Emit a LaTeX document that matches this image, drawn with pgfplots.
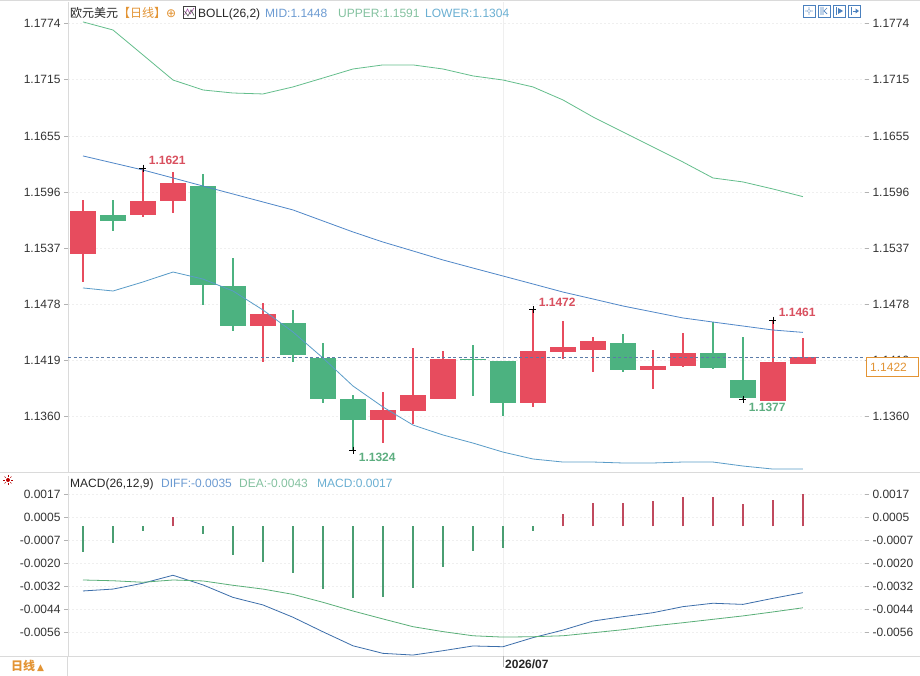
\documentclass[border=0pt]{standalone}
\usepackage{pgfplots}
\pgfplotsset{compat=1.18}
\usepackage{pgfplotstable}
\usepackage{fontspec}
\setmainfont{Liberation Sans}
\newfontfamily\cjk{Noto Sans CJK SC}
\newfontfamily\dejavu{DejaVu Sans}

\definecolor{upred}{HTML}{E74C5E}
\definecolor{dngreen}{HTML}{4CB280}
\definecolor{bollup}{HTML}{64BE8C}
\definecolor{bollmid}{HTML}{5087C8}
\definecolor{bolllow}{HTML}{5A9CC8}
\definecolor{diffc}{HTML}{3C6EAA}
\definecolor{deac}{HTML}{5AAF78}
\definecolor{macdred}{HTML}{C04A5E}
\definecolor{macdgreen}{HTML}{4A9E72}
\definecolor{tickc}{HTML}{333333}
\definecolor{gridc}{HTML}{EFEFEF}
\definecolor{framec}{HTML}{DADADA}
\definecolor{orangec}{HTML}{E39434}
\definecolor{lblred}{HTML}{D9505F}
\definecolor{lblgreen}{HTML}{5DAE80}
\definecolor{pricec}{HTML}{5B7BA8}
\definecolor{iconblue}{HTML}{4A80BE}
\definecolor{midtxt}{HTML}{6C9BD2}
\definecolor{uptxt}{HTML}{84C2A0}
\definecolor{lowtxt}{HTML}{6AAFD2}

% daily candles: x, open, high, low, close
\pgfplotstableread{
x o h l c
0 1.15309 1.15875 1.15014 1.15759
2 1.15720 1.16210 1.15699 1.15864
3 1.15867 1.16173 1.15735 1.16057
6 1.14550 1.14786 1.14165 1.14674
10 1.13560 1.13852 1.13317 1.13662
11 1.13655 1.14312 1.13514 1.13820
12 1.13781 1.14287 1.13775 1.14203
15 1.13739 1.14720 1.13697 1.14284
16 1.14276 1.14603 1.14196 1.14326
17 1.14297 1.14434 1.14066 1.14389
19 1.14087 1.14294 1.13883 1.14126
20 1.14129 1.14477 1.14118 1.14266
23 1.13760 1.14610 1.13760 1.14171
24 1.14150 1.14424 1.14150 1.14220
}\upcandles
\pgfplotstableread{
x o h l c
1 1.15717 1.15875 1.15551 1.15650
4 1.16026 1.16149 1.14768 1.14982
5 1.14969 1.15261 1.14494 1.14547
7 1.14579 1.14716 1.14171 1.14245
8 1.14207 1.14371 1.13739 1.13781
9 1.13778 1.13820 1.13240 1.13560
13 1.14203 1.14347 1.13813 1.14190
14 1.14178 1.14178 1.13599 1.13739
18 1.14368 1.14460 1.14066 1.14087
21 1.14266 1.14593 1.14097 1.14108
22 1.13978 1.14434 1.13770 1.13792
}\downcandles
% Bollinger bands (26,2)
\pgfplotstableread{
x up mid low
0 1.17751 1.16339 1.14948
1 1.17666 1.16265 1.14916
2 1.17403 1.16191 1.15011
3 1.17139 1.16107 1.15116
4 1.17034 1.16022 1.15042
5 1.17002 1.15938 1.14916
6 1.16992 1.15854 1.14716
7 1.17066 1.15770 1.14484
8 1.17160 1.15654 1.14210
9 1.17255 1.15538 1.13915
10 1.17298 1.15432 1.13694
11 1.17298 1.15338 1.13504
12 1.17255 1.15243 1.13399
13 1.17182 1.15158 1.13314
14 1.17139 1.15074 1.13219
15 1.17066 1.14990 1.13146
16 1.16929 1.14905 1.13114
17 1.16750 1.14832 1.13114
18 1.16591 1.14758 1.13104
19 1.16433 1.14695 1.13104
20 1.16275 1.14632 1.13114
21 1.16107 1.14589 1.13114
22 1.16065 1.14547 1.13072
23 1.15991 1.14505 1.13040
24 1.15910 1.14480 1.13040
}\boll
% MACD(26,12,9)
\pgfplotstableread{
x diff dea macd
0 -0.00341 -0.00283 -0.00133
1 -0.00331 -0.00287 -0.00089
2 -0.00300 -0.00295 -0.00022
3 -0.00258 -0.00283 0.00052
4 -0.00309 -0.00288 -0.00041
5 -0.00375 -0.00311 -0.00151
6 -0.00415 -0.00331 -0.00186
7 -0.00480 -0.00359 -0.00244
8 -0.00557 -0.00401 -0.00331
9 -0.00631 -0.00447 -0.00380
10 -0.00671 -0.00489 -0.00371
11 -0.00680 -0.00530 -0.00324
12 -0.00657 -0.00556 -0.00213
13 -0.00632 -0.00578 -0.00128
14 -0.00636 -0.00585 -0.00112
15 -0.00588 -0.00583 -0.00022
16 -0.00548 -0.00578 0.00065
17 -0.00500 -0.00562 0.00126
18 -0.00477 -0.00546 0.00126
19 -0.00456 -0.00526 0.00137
20 -0.00424 -0.00509 0.00158
21 -0.00406 -0.00491 0.00158
22 -0.00412 -0.00473 0.00119
23 -0.00380 -0.00452 0.00140
24 -0.00350 -0.00430 0.00170
}\macd

\pgfplotsset{
  candle/.style n args={2}{draw=none, mark=none, forget plot,
    error bars/.cd, y dir=both, y explicit, error mark=none,
    error bar style={line width=#1, draw=#2}},
  panel/.style={scale only axis, width=797pt, xmin=-0.5, xmax=26.07,
    axis x line=none, axis line style={draw=framec, -},
    tick style={draw=gray!60}, tick align=outside, major tick length=4pt,
    minor tick length=2.5pt, scaled y ticks=false,
    yticklabel style={font=\fontsize{12}{14}\selectfont, text=tickc}},
}

\begin{document}
\begin{tikzpicture}[x=1pt, y=1pt, font=\fontsize{12}{14}\selectfont]
\useasboundingbox (0,0) rectangle (920,676);
\fill[white] (0,0) rectangle (920,676);

% ---------- price panel ----------
\begin{axis}[panel, at={(68pt,674pt)}, anchor=north west, height=470pt,
  ymin=1.13009, ymax=1.17961, axis y line*=left,
  ytick={1.1774,1.1715,1.1655,1.1596,1.1537,1.1478,1.1419,1.1360},
  yticklabel style={/pgf/number format/fixed, /pgf/number format/fixed zerofill,
    /pgf/number format/precision=4, /pgf/number format/assume math mode=true},
  ymajorgrids, grid style={draw=gridc, dash pattern=on 2pt off 2pt}]
\addplot[gridc, forget plot] coordinates {(14,1.13009) (14,1.17961)};
% wicks and bodies
\addplot[candle={1.3pt}{upred}] table[x=x, y expr={(\thisrow{h}+\thisrow{l})/2}, y error expr={(\thisrow{h}-\thisrow{l})/2}] {\upcandles};
\addplot[candle={1.3pt}{dngreen}] table[x=x, y expr={(\thisrow{h}+\thisrow{l})/2}, y error expr={(\thisrow{h}-\thisrow{l})/2}] {\downcandles};
\addplot[candle={26pt}{upred}] table[x=x, y expr={(\thisrow{o}+\thisrow{c})/2}, y error expr={abs(\thisrow{c}-\thisrow{o})/2}] {\upcandles};
\addplot[candle={26pt}{dngreen}] table[x=x, y expr={(\thisrow{o}+\thisrow{c})/2}, y error expr={abs(\thisrow{c}-\thisrow{o})/2}] {\downcandles};
% bands
\addplot[bollup, line width=0.8pt, mark=none] table[x=x, y=up] {\boll};
\addplot[bollmid, line width=0.8pt, mark=none] table[x=x, y=mid] {\boll};
\addplot[bolllow, line width=0.8pt, mark=none] table[x=x, y=low] {\boll};
% last price
\addplot[pricec, line width=0.7pt, dash pattern=on 3pt off 2.5pt, mark=none] coordinates {(-0.5,1.1422) (26.07,1.1422)};
% extremes
\addplot[only marks, mark=+, mark size=3.5pt, mark options={black, line width=0.8pt},
  nodes near coords, point meta=explicit symbolic,
  nodes near coords style={anchor=south west, inner sep=0pt, xshift=5.5pt, yshift=2.8pt,
    font=\bfseries\fontsize{12}{14}\selectfont, text=lblred}]
  table[x=x, y=y, meta=lbl] {
x y lbl
2 1.1621 1.1621
15 1.1472 1.1472
23 1.1461 1.1461
};
\addplot[only marks, mark=+, mark size=3.5pt, mark options={black, line width=0.8pt},
  nodes near coords, point meta=explicit symbolic,
  nodes near coords style={anchor=north west, inner sep=0pt, xshift=5.5pt, yshift=-2.5pt,
    font=\bfseries\fontsize{12}{14}\selectfont, text=lblgreen}]
  table[x=x, y=y, meta=lbl] {
x y lbl
9 1.1324 1.1324
22 1.1377 1.1377
};
\end{axis}
% right-hand price scale
\begin{axis}[panel, at={(68pt,674pt)}, anchor=north west, height=470pt,
  ymin=1.13009, ymax=1.17961, axis y line*=right, minor y tick num=4,
  axis line style={draw=none},
  ytick={1.1774,1.1715,1.1655,1.1596,1.1537,1.1478,1.1419,1.1360},
  yticklabel style={/pgf/number format/fixed, /pgf/number format/fixed zerofill,
    /pgf/number format/precision=4, /pgf/number format/assume math mode=true}]
\end{axis}

% ---------- MACD panel ----------
\begin{axis}[panel, at={(68pt,200pt)}, anchor=north west, height=180pt,
  ymin=-0.00685, ymax=0.002671, axis y line*=left,
  ytick={0.0017,0.000483,-0.000733,-0.00195,-0.003167,-0.004383,-0.0056},
  yticklabels={0.0017,0.0005,-0.0007,-0.0020,-0.0032,-0.0044,-0.0056},
  ymajorgrids, grid style={draw=gridc, dash pattern=on 2pt off 2pt}]
\addplot[gridc, forget plot] coordinates {(14,-0.00685) (14,0.002671)};
\addplot[ycomb, macdred, line width=1.3pt, mark=none, restrict y to domain=0:1] table[x=x, y=macd] {\macd};
\addplot[ycomb, macdgreen, line width=1.3pt, mark=none, restrict y to domain=-1:0] table[x=x, y=macd] {\macd};
\addplot[diffc, line width=0.8pt, mark=none] table[x=x, y=diff] {\macd};
\addplot[deac, line width=0.8pt, mark=none] table[x=x, y=dea] {\macd};
\end{axis}
\begin{axis}[panel, at={(68pt,200pt)}, anchor=north west, height=180pt,
  ymin=-0.00685, ymax=0.002671, axis y line*=right, minor y tick num=4,
  axis line style={draw=none},
  ytick={0.0017,0.000483,-0.000733,-0.00195,-0.003167,-0.004383,-0.0056},
  yticklabels={0.0017,0.0005,-0.0007,-0.0020,-0.0032,-0.0044,-0.0056}]
\end{axis}

% ---------- frame lines ----------
\draw[framec] (0,675.5) -- (920,675.5);
\draw[framec] (0,204) -- (920,204);
\draw[framec] (0,20) -- (920,20);
\draw[framec] (67.5,0) -- (67.5,20);
\draw[gray!60] (503,20) -- (503,9);

% last price tag
\draw[orangec, fill=white, line width=0.8pt] (866,300) rectangle (918,319);
\node[anchor=base west, inner sep=0, text=orangec] at (870,304.5) {1.1422};

% ---------- headers ----------
\node[anchor=base west, inner sep=0, text=black!85] at (70,658.5) {\cjk 欧元美元};
\node[anchor=base west, inner sep=0, text=orangec] at (118,658.5) {\cjk 【日线】};
\node[anchor=base west, inner sep=0, text=orangec] at (166,658.5) {\dejavu\fontsize{12}{14}\selectfont ⊕};
\draw[black!75, line width=0.7pt] (183.5,658) rectangle (195,669.5);
\draw[violet!70, line width=0.6pt] (184.5,661) -- (187.5,667) -- (190,662) -- (194,668);
\draw[black!70, line width=0.6pt] (184.5,665) -- (188,660) -- (191,666) -- (194,660.5);
\node[anchor=base west, inner sep=0, text=black!85] at (198,658.5) {BOLL(26,2)};
\node[anchor=base west, inner sep=0, text=midtxt] at (265,658.5) {MID:1.1448};
\node[anchor=base west, inner sep=0, text=uptxt] at (338,658.5) {UPPER:1.1591};
\node[anchor=base west, inner sep=0, text=lowtxt] at (425,658.5) {LOWER:1.1304};

% toolbar
\foreach \x in {803,818,833,848} {
  \draw[iconblue, line width=0.7pt] (\x,659) rectangle (\x+12,671);
}
\foreach \dx/\dy in {0/3,0/-3,3/0,-3/0,0/1.2,0/-1.2,1.2/0,-1.2/0}
  \fill[iconblue] (809+\dx,665+\dy) circle (0.6);
\draw[iconblue, line width=0.7pt] (821,661) -- (821,669) (823,661) -- (823,669) (824,665) -- (827,668) (824,665) -- (827,662);
\draw[iconblue, line width=0.7pt] (836,661) -- (836,669);
\fill[iconblue] (838,662) -- (838,668) -- (843,665) -- cycle;
\draw[iconblue, line width=0.7pt] (851,661) -- (851,669);
\draw[iconblue, line width=0.9pt] (852.5,665) -- (856,665);
\fill[iconblue] (855.5,662.5) -- (855.5,667.5) -- (859,665) -- cycle;

\node[anchor=base west, inner sep=0, text=black!85] at (70,188.5) {MACD(26,12,9)};
\node[anchor=base west, inner sep=0, text=midtxt] at (161,188.5) {DIFF:-0.0035};
\node[anchor=base west, inner sep=0, text=uptxt] at (239,188.5) {DEA:-0.0043};
\node[anchor=base west, inner sep=0, text=lowtxt] at (317,188.5) {MACD:0.0017};
% indicator glyph
\fill[red!75!black] (8,196) circle (2);
\foreach \a in {0,45,...,315}
  \draw[red!70!black, line width=0.6pt] (8,196) ++(\a:3.3) -- ++(\a:1.6);

% footer
\node[anchor=base west, inner sep=0, text=orangec] at (11,5.5) {\cjk\bfseries 日线\,{\dejavu\fontsize{9}{10}\selectfont ▲}};
\node[anchor=base west, inner sep=0, text=black!85] at (505,7.5) {\bfseries 2026/07};
\end{tikzpicture}
\end{document}
